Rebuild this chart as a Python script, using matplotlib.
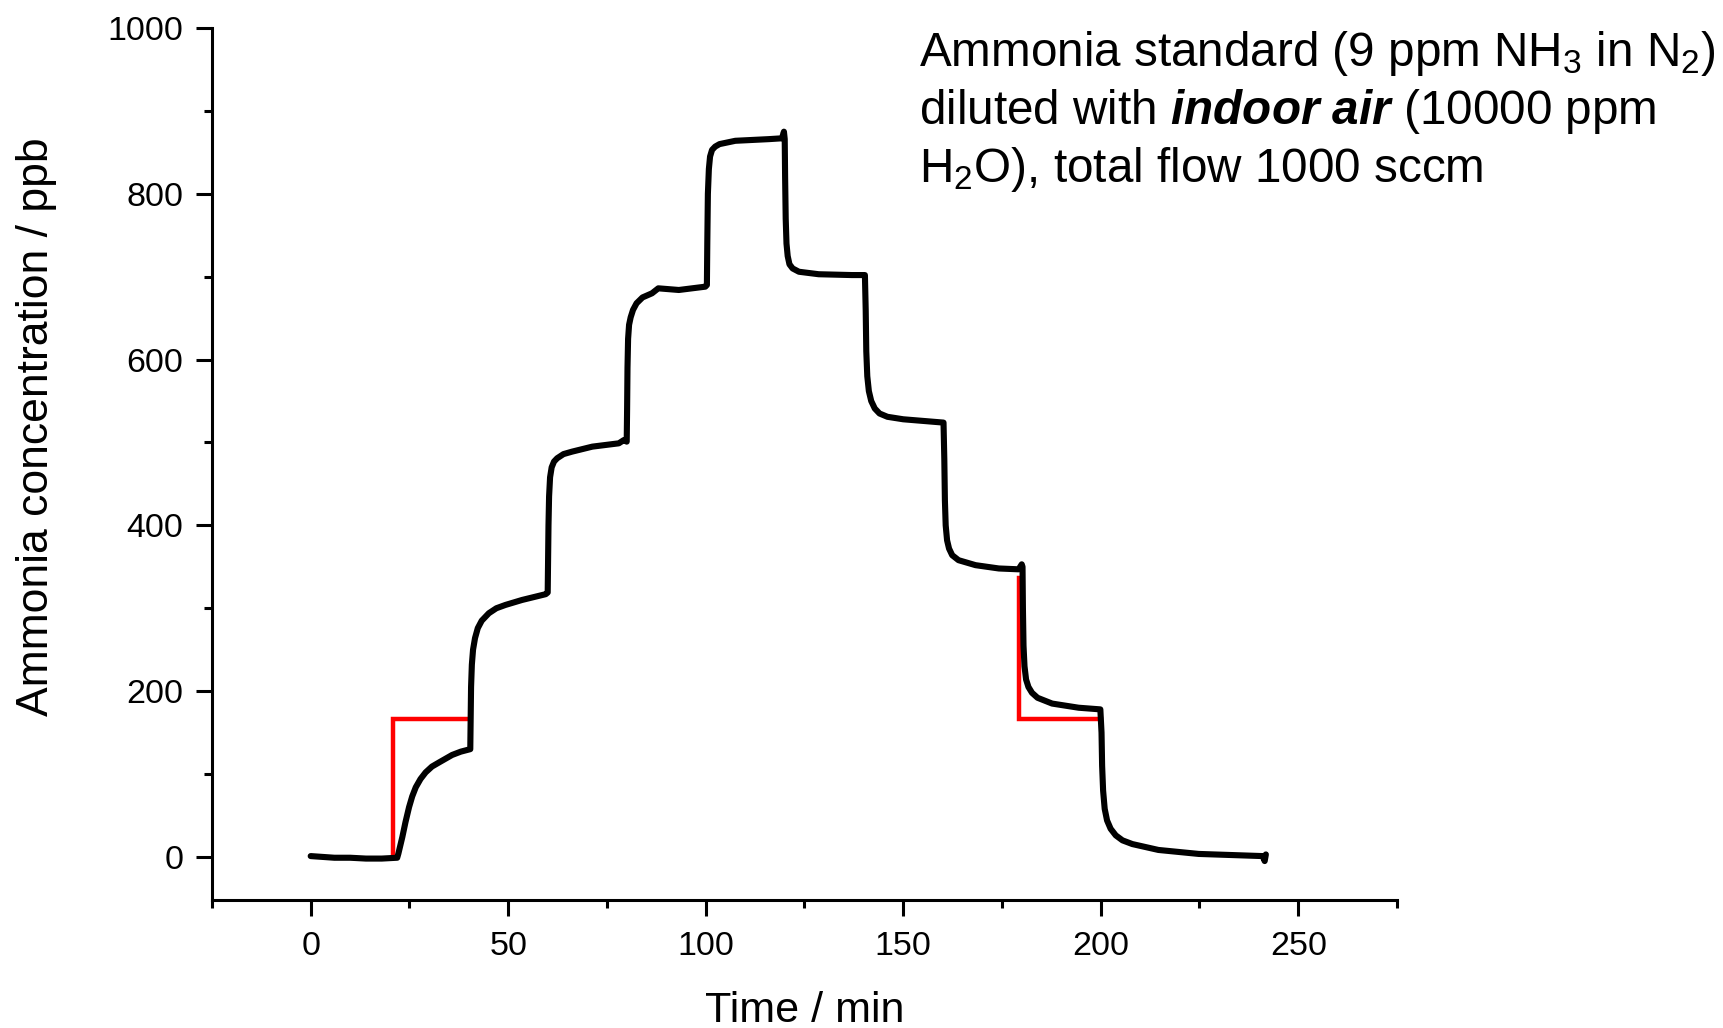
import matplotlib
matplotlib.use("Agg")
import matplotlib.pyplot as plt

plt.rcParams["font.family"] = ["Liberation Sans", "DejaVu Sans"]
plt.rcParams["mathtext.fontset"] = "custom"
plt.rcParams["mathtext.rm"] = "Liberation Sans"
plt.rcParams["mathtext.it"] = "Liberation Sans:italic"
plt.rcParams["mathtext.bf"] = "Liberation Sans:bold"
plt.rcParams["mathtext.bfit"] = "Liberation Sans:italic:bold"

time_min = [0, 3, 6, 10, 14, 18, 21.9,
            22.2, 22.6, 23.2, 24.0, 24.9, 25.7, 26.6, 27.8, 29.1, 30.7, 32.5, 35.8, 38.0, 40.4,
            40.5, 40.6, 40.8, 41.1, 41.6, 42.3, 43.3, 45.1, 47.0, 49.3, 53.5, 59.5, 60.0,
            60.1, 60.2, 60.35, 60.6, 61.0, 61.6, 62.4, 64.0, 66.2, 71.3, 78.0, 79.3, 80.0,
            80.1, 80.2, 80.35, 80.6, 81.0, 81.6, 82.5, 84.0, 86.4, 88.0, 93.2, 99.9, 100.3,
            100.4, 100.55, 100.8, 101.1, 101.6, 102.4, 103.5, 105.5, 107.5, 116.0, 119.3, 119.8, 120.0,
            120.1, 120.25, 120.45, 120.75, 121.2, 122.0, 123.6, 128.6, 137.0, 140.3,
            140.5, 140.65, 140.9, 141.3, 141.9, 142.8, 144.0, 146.0, 150.0, 155.0, 160.2,
            160.4, 160.55, 160.75, 161.1, 161.6, 162.4, 164.0, 168.3, 174.2, 179.2, 180.0, 180.2,
            180.3, 180.45, 180.7, 181.1, 181.7, 182.6, 184.0, 187.7, 194.4, 199.9,
            200.2, 200.35, 200.6, 201.0, 201.6, 202.5, 203.8, 205.5, 208.0, 214.6, 224.8, 235.0,
            241.0, 241.5, 241.8]
nh3_ppb = [1, 0, -1, -1, -2, -2, -1,
           4, 12, 24, 42, 60, 73, 84, 94, 102, 109, 114, 123, 127, 130,
           170, 205, 232, 250, 264, 276, 285, 294, 300, 304, 310, 317, 319,
           360, 400, 435, 458, 470, 477, 481, 486, 489, 495, 499, 503, 501,
           540, 590, 625, 642, 651, 660, 668, 675, 680, 686, 684, 688, 690,
           740, 800, 830, 845, 853, 857, 860, 862, 864, 866, 867, 875, 866,
           820, 770, 740, 725, 715, 710, 706, 703, 702, 702,
           660, 610, 580, 562, 550, 541, 535, 531, 528, 526, 524,
           480, 430, 400, 382, 372, 364, 358, 352, 348, 347, 353, 350,
           300, 255, 230, 214, 205, 198, 192, 185, 180, 178,
           150, 110, 80, 58, 44, 34, 26, 20, 15.5, 8.4, 3.6, 2,
           1, -5, 3]

# nominal set-point steps (red)
step_up_t = [20.9, 20.9, 40.3]
step_up_v = [2, 166, 166]
step_down_t = [179.2, 179.2, 200.1]
step_down_v = [336, 166, 166]

fig = plt.figure(figsize=(17.23, 10.28), dpi=100)
ax = fig.add_axes([0.1230, 0.1245, 0.6878, 0.8482])

ax.plot(step_up_t, step_up_v, color="#ff0000", lw=3.2, solid_joinstyle="miter")
ax.plot(step_down_t, step_down_v, color="#ff0000", lw=3.2, solid_joinstyle="miter")
ax.plot(time_min, nh3_ppb, color="black", lw=4.4, solid_joinstyle="round",
        solid_capstyle="round")

ax.set_xlim(-25, 275)
ax.set_ylim(-52, 1000)
ax.set_xticks([0, 50, 100, 150, 200, 250])
ax.set_xticks([-25, 25, 75, 125, 175, 225, 275], minor=True)
ax.set_yticks([0, 200, 400, 600, 800, 1000])
ax.set_yticks([100, 300, 500, 700, 900], minor=True)

for side in ["top", "right"]:
    ax.spines[side].set_visible(False)
for side in ["left", "bottom"]:
    ax.spines[side].set_linewidth(2.2)

ax.tick_params(which="major", direction="out", length=11.5, width=2.2,
               labelsize=24.5, colors="black")
ax.tick_params(which="minor", direction="out", length=6, width=2.2)
ax.tick_params(axis="x", which="major", pad=10.5)
ax.tick_params(axis="y", which="major", pad=9)

fig.text(0.467, 0.006, "Time / min", ha="center", va="baseline", fontsize=31)
fig.text(0.021, 0.585, "Ammonia concentration / ppb", ha="center", va="center",
         rotation=90, fontsize=32)

fig.text(0.5335, 0.936, r"Ammonia standard (9 ppm NH$_3$ in N$_2$)",
         ha="left", va="baseline", fontsize=34.3)
fig.text(0.5335, 0.879, r"diluted with $\mathbfit{indoor\ air}$ (10000 ppm",
         ha="left", va="baseline", fontsize=34.3)
fig.text(0.5335, 0.823, r"H$_2$O), total flow 1000 sccm",
         ha="left", va="baseline", fontsize=34.3)

fig.savefig("out.png", dpi=100)
